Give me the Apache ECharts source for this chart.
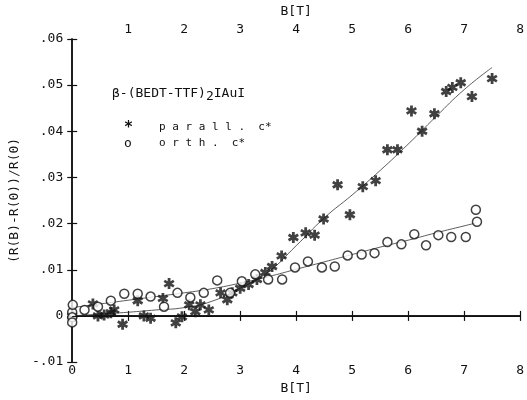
<!DOCTYPE html>
<html>
<head>
<meta charset="utf-8">
<script src="https://cdn.jsdelivr.net/npm/echarts@6/dist/echarts.min.js"></script>
<style>
  html, body { margin: 0; padding: 0; background: #fff; }
  #chart { width: 527px; height: 400px; }
</style>
</head>
<body>
<div id="chart"></div>
<script>
// B[T] and (R(B)-R(0))/R(0)
const parallB = [0, 0.37, 0.46, 0.57, 0.69, 0.75, 0.9, 1.17, 1.28, 1.4, 1.62, 1.73, 1.85, 1.96, 2.09, 2.2,
  2.29, 2.44, 2.65, 2.77, 2.86, 3.0, 3.15, 3.3, 3.45, 3.57, 3.74, 3.95, 4.17, 4.33, 4.49, 4.74, 4.96,
  5.19, 5.42, 5.63, 5.81, 6.06, 6.25, 6.47, 6.68, 6.79, 6.94, 7.14, 7.5];
const parallR = [0, 0.0026, 0, 0.0002, 0.0007, 0.0013, -0.0018, 0.0033, 0, -0.0005, 0.0038, 0.007, -0.0015,
  -0.0002, 0.0024, 0.0009, 0.0024, 0.0013, 0.005, 0.0035, 0.005, 0.006, 0.0068, 0.0079, 0.0094, 0.0107,
  0.013, 0.017, 0.018, 0.0175, 0.021, 0.0284, 0.0219, 0.028, 0.0293, 0.036, 0.036, 0.0444, 0.040, 0.0438,
  0.0486, 0.0495, 0.0505, 0.0475, 0.0514];

const orthB = [0, 0, 0, 0.01, 0.22, 0.46, 0.69, 0.93, 1.17, 1.4, 1.64, 1.88, 2.11, 2.35, 2.59, 2.82, 3.03,
  3.27, 3.5, 3.75, 3.98, 4.21, 4.46, 4.69, 4.92, 5.17, 5.4, 5.63, 5.88, 6.11, 6.32, 6.54, 6.77, 7.03,
  7.21, 7.23];
const orthR = [0.0008, -0.0003, -0.0014, 0.0024, 0.0013, 0.002, 0.0033, 0.0048, 0.0048, 0.0042, 0.002,
  0.005, 0.004, 0.005, 0.0077, 0.005, 0.0075, 0.009, 0.0079, 0.0079, 0.0105, 0.0118, 0.0105, 0.0107,
  0.0131, 0.0133, 0.0136, 0.016, 0.0155, 0.0177, 0.0153, 0.0175, 0.0171, 0.0171, 0.023, 0.0204];

// hand-drawn guide curves through the points
const parallFitB = [0, 0.5, 1, 1.5, 2, 2.5, 3, 3.5, 4, 4.5, 5, 5.5, 6, 6.5, 7, 7.5];
const parallFitR = [0, 0.0004, 0.0008, 0.0013, 0.0018, 0.0032, 0.006, 0.0095, 0.0152, 0.0212, 0.0262,
  0.0315, 0.0372, 0.0432, 0.049, 0.0538];
const orthFitB = [0, 0.5, 1, 1.5, 2, 2.5, 3, 3.5, 4, 4.5, 5, 5.5, 6, 6.5, 7, 7.2];
const orthFitR = [0.0018, 0.0026, 0.0034, 0.0042, 0.005, 0.0059, 0.0071, 0.0085, 0.0101, 0.0117, 0.0133,
  0.0149, 0.0164, 0.018, 0.0195, 0.0201];

const FONT = "DejaVu Sans Mono";
const INK = "#111";

// six-armed asterisk, fairly heavy like the plotter mark
const STAR = "path://M-1.5,-6L1.5,-6L1.5,6L-1.5,6Z" +
  "M4.446,-4.299L5.946,-1.701L-4.446,4.299L-5.946,1.701Z" +
  "M5.946,1.701L4.446,4.299L-5.946,-1.701L-4.446,-4.299Z";

const zip = (xs, ys) => xs.map((x, i) => [x, ys[i]]);

function yLabel(v) {
  if (Math.abs(v) < 1e-9) return "0";
  const n = String(Math.round(Math.abs(v) * 100)).padStart(2, "0");
  return (v < 0 ? "-." : ".") + n;
}

const chart = echarts.init(document.getElementById("chart"));

const axisCommon = {
  axisLine: { lineStyle: { color: INK, width: 1.5 } },
  axisTick: { inside: true, length: 5, lineStyle: { color: INK, width: 1.2 } },
  splitLine: { show: false },
  nameTextStyle: { fontFamily: FONT, fontSize: 13, color: INK },
};

chart.setOption({
  animation: false,
  grid: { left: 71, right: 5, top: 36, bottom: 33 },
  xAxis: [
    { ...axisCommon, type: "value", position: "bottom", min: 0, max: 8, interval: 1,
      name: "B[T]", nameLocation: "middle", nameGap: 17,
      axisLabel: { fontFamily: FONT, fontSize: 13, color: INK, margin: 2 } },
    { ...axisCommon, type: "value", position: "top", min: 0, max: 8, interval: 1,
      name: "B[T]", nameLocation: "middle", nameGap: 20,
      axisLabel: { fontFamily: FONT, fontSize: 13, color: INK, margin: 3, showMinLabel: false } },
  ],
  yAxis: [
    { ...axisCommon, type: "value", position: "left", min: -0.01, max: 0.06, interval: 0.01,
      name: "(R(B)-R(0))/R(0)", nameLocation: "middle", nameGap: 44, nameRotate: 90,
      axisLabel: { fontFamily: FONT, fontSize: 13, color: INK, margin: 9, formatter: yLabel } },
    { ...axisCommon, type: "value", position: "right", min: -0.01, max: 0.06, interval: 0.01,
      axisLabel: { show: false } },
  ],
  series: [
    { name: "parall. c*", type: "scatter", data: zip(parallB, parallR),
      symbol: STAR, symbolSize: 11, itemStyle: { color: INK }, z: 4,
      markLine: { silent: true, symbol: "none", label: { show: false },
        lineStyle: { color: INK, width: 1.2, type: "solid" }, data: [{ yAxis: 0 }] } },
    { name: "orth. c*", type: "scatter", data: zip(orthB, orthR),
      symbol: "circle", symbolSize: 9,
      itemStyle: { color: "#fff", borderColor: INK, borderWidth: 1.5 }, z: 4 },
    { type: "line", data: zip(parallFitB, parallFitR), smooth: true, showSymbol: false,
      lineStyle: { color: "#333", width: 0.8 }, z: 2 },
    { type: "line", data: zip(orthFitB, orthFitR), smooth: true, showSymbol: false,
      lineStyle: { color: "#333", width: 0.8 }, z: 2 },
  ],
  graphic: [
    { type: "text", left: 112, top: 87, style: {
        text: "{a|β-(BEDT-TTF)}{s|2}{a|IAuI}",
        rich: {
          a: { fontFamily: FONT, fontSize: 13, fill: INK },
          s: { fontFamily: FONT, fontSize: 13, fill: INK, padding: [7, 0, 0, 0] },
        } } },
    { type: "text", left: 124, top: 121, style: { text: "*", fontFamily: FONT, fontSize: 15, fontWeight: "bold", fill: INK } },
    { type: "text", left: 159, top: 122, style: { text: "p a r a l l .  c*", fontFamily: FONT, fontSize: 11, fill: INK } },
    { type: "text", left: 124, top: 137, style: { text: "o", fontFamily: FONT, fontSize: 13, fill: INK } },
    { type: "text", left: 159, top: 138, style: { text: "o r t h .  c*", fontFamily: FONT, fontSize: 11, fill: INK } },
  ],
});
</script>
</body>
</html>
